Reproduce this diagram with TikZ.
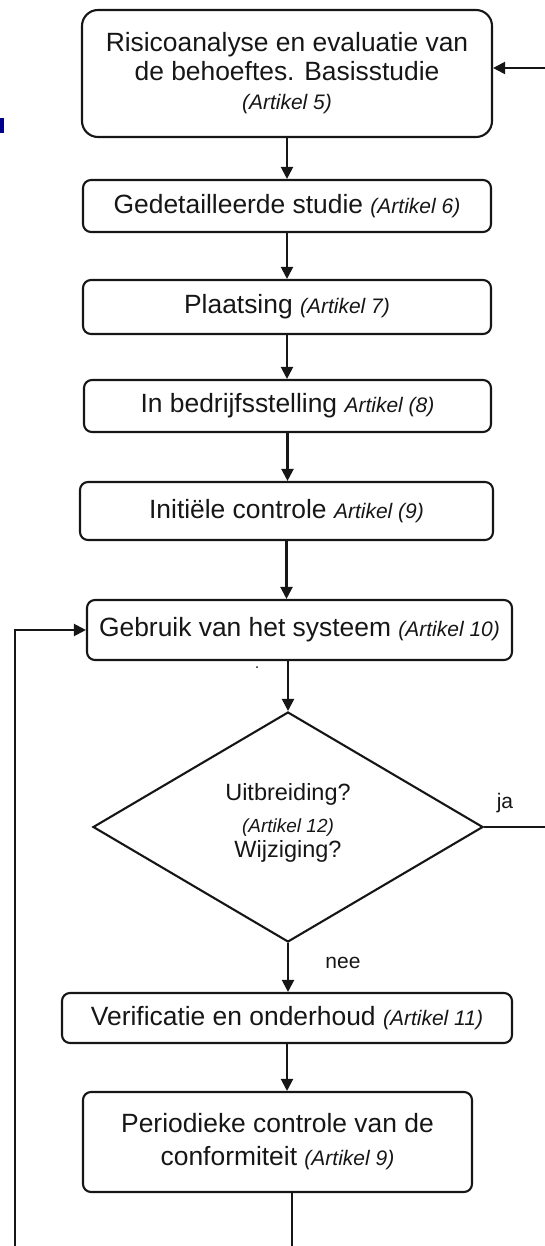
\documentclass[tikz,border=0pt]{standalone}
\usepackage{fontspec}
\setmainfont{Liberation Sans}
\usetikzlibrary{arrows.meta,shapes.geometric}
\newcommand\art[1]{{\fontsize{21}{24}\selectfont\itshape #1}}
\definecolor{ink}{HTML}{161616}
\begin{document}
\begin{tikzpicture}[x=1pt,y=-1pt,line width=2.1pt,draw=ink,text=ink,
  box/.style={draw=ink,rounded corners=8pt,inner sep=0pt,align=center,
    font=\fontsize{26.4}{29}\selectfont},
  arr/.style={-{Triangle[length=12pt,width=12pt]}},
  dtxt/.style={font=\fontsize{23.5}{28}\selectfont,inner sep=0pt,anchor=base},
  lbl/.style={font=\fontsize{21}{24}\selectfont,inner sep=0pt}]
\useasboundingbox (0,0) rectangle (544,1246);
\fill[blue!55!black] (0,118) rectangle (4,133);
\fill[ink] (257,667) circle (1);

\node[box,rounded corners=16pt,minimum width=410pt,minimum height=127pt] (b1) at (287,73.5)
  {Risicoanalyse en evaluatie van\\de behoeftes. Basisstudie\\[0pt]\art{(Artikel 5)}};
\node[box,minimum width=408pt,minimum height=52pt] (b2) at (287,206)
  {Gedetailleerde studie \art{(Artikel 6)}};
\node[box,minimum width=408pt,minimum height=54pt] (b3) at (287,307)
  {Plaatsing \art{(Artikel 7)}};
\node[box,minimum width=407pt,minimum height=52pt] (b4) at (287.5,406)
  {In bedrijfsstelling \art{Artikel (8)}};
\node[box,minimum width=413pt,minimum height=58pt] (b5) at (286.5,511)
  {Initiële controle \art{Artikel (9)}};
\node[box,minimum width=425pt,minimum height=60pt] (b6) at (299.5,630)
  {Gebruik van het systeem \art{(Artikel 10)}};
\node[diamond,draw=ink,minimum width=390pt,minimum height=230pt,inner sep=0pt] (d) at (288,827) {};
\node[dtxt] (dt1) at (288,800) {Uitbreiding?};
\node[dtxt,font=\fontsize{19}{22}\selectfont\itshape] (dt2) at (288,832) {(Artikel 12)};
\node[dtxt] (dt3) at (288,857) {Wijziging?};
\node[box,minimum width=450pt,minimum height=50pt] (b7) at (287,1018)
  {Verificatie en onderhoud \art{(Artikel 11)}};
\node[box,font=\fontsize{26.4}{33}\selectfont,minimum width=389pt,minimum height=100pt] (b8) at (277.5,1142)
  {Periodieke controle van de\\conformiteit \art{(Artikel 9)}};

\node[lbl] (ja) at (505,803) {ja};
\node[lbl] (nee) at (343,963) {nee};

\coordinate (r) at (548,68);
\coordinate (e1) at (292,1262);
\coordinate (lb) at (15,1262);

\draw[arr] (b1.south) -- (b1.south |- b2.north);
\draw[arr] (b2.south) -- (b2.south |- b3.north);
\draw[arr] (b3.south) -- (b3.south |- b4.north);
\draw[arr] (b4.south) -- (b4.south |- b5.north);
\draw[arr] (b5.south) -- (b5.south |- b6.north);
\draw[arr] (d.north |- b6.south) -- (d.north);
\draw[arr] (d.south) -- (d.south |- b7.north);
\draw[arr] (b7.south) -- (b7.south |- b8.north);
\draw[arr] (d.east) -- (d.east -| r) -- (r) -- (r -| b1.east);
\draw[arr] (b8.south -| e1) -- (e1) -- (lb) |- (b6.west);
\end{tikzpicture}
\end{document}
